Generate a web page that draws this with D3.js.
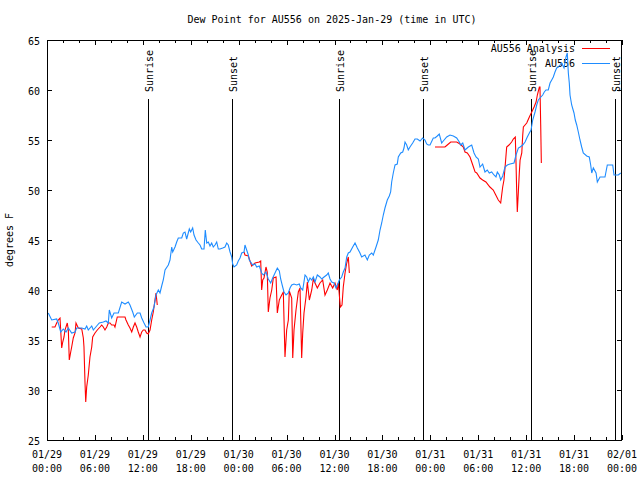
<!DOCTYPE html>
<html><head><meta charset="utf-8">
<script src="https://cdn.jsdelivr.net/npm/d3@7"></script>
<style>body{margin:0;background:#fff}svg{display:block}text{font-family:"DejaVu Sans Mono",monospace;font-size:10px;fill:#000}</style>
</head><body><svg id="c" width="640" height="480"></svg>
<script>
// hours since 2025-01-29 00:00 UTC
const blueHours=[0.16,0.59,1.21,1.41,1.72,2.04,2.38,2.67,3.09,3.51,3.72,4.35,4.76,4.97,5.17,5.60,5.80,6.22,6.55,7.05,7.39,7.68,7.80,8.10,8.39,8.93,9.35,9.77,10.18,10.39,10.73,10.93,11.31,11.65,11.86,12.15,12.40,12.68,12.90,13.11,13.40,13.65,13.94,14.15,14.36,14.56,14.78,15.19,15.40,15.62,15.74,16.03,16.24,16.44,16.87,17.07,17.28,17.49,17.82,17.99,18.24,18.41,18.66,18.95,19.16,19.37,19.66,19.82,20.00,20.20,20.41,20.62,20.82,21.04,21.25,21.45,21.66,22.00,22.29,22.50,22.70,22.92,23.13,23.25,23.42,23.75,23.95,24.17,24.38,24.67,24.79,25.00,25.21,25.33,25.76,26.05,26.26,26.58,26.88,27.09,27.42,27.71,28.01,28.26,28.55,28.84,29.09,29.26,29.51,29.68,29.93,30.22,30.43,30.64,30.93,31.27,31.59,31.77,32.02,32.31,32.52,32.72,32.93,33.15,33.35,33.56,33.85,34.18,34.40,34.69,35.02,35.22,35.44,35.65,35.94,36.19,36.35,36.60,36.90,37.10,37.32,37.53,37.73,37.94,38.28,38.57,38.86,39.19,39.40,39.81,40.11,40.36,40.66,40.86,41.20,41.48,41.70,41.91,42.11,42.32,42.61,42.86,43.03,43.16,43.36,43.58,43.86,43.99,44.29,44.54,44.70,44.83,45.04,45.24,45.45,45.79,46.08,46.37,46.71,47.04,47.33,47.54,47.74,47.96,48.37,48.58,48.87,49.12,49.42,49.62,50.05,50.46,50.88,51.30,51.63,51.80,52.06,52.34,52.76,52.97,53.18,53.47,53.72,54.01,54.22,54.55,54.84,55.13,55.38,55.68,55.97,56.22,56.39,56.64,56.81,57.06,57.35,57.64,57.98,58.48,58.73,59.02,59.24,59.57,59.86,60.14,60.40,60.61,60.82,61.11,61.32,61.52,61.73,62.07,62.27,62.48,62.77,62.99,63.20,63.40,63.61,63.82,64.03,64.24,64.45,64.74,64.99,65.15,65.28,65.40,65.49,65.70,65.99,66.15,66.33,66.53,66.74,66.95,67.15,67.58,67.90,68.08,68.21,68.41,68.75,68.91,69.25,69.87,70.16,70.84,71.00,71.54,71.84];
const blueValues=[37.7,37.0,37.1,36.7,35.8,36.1,35.8,36.2,35.7,35.8,36.2,36.2,36.1,36.4,36.0,36.4,36.0,36.4,36.7,36.8,36.9,36.7,38.0,37.2,37.7,37.7,38.8,38.6,38.8,38.5,37.8,37.3,37.7,37.7,37.2,36.7,36.3,36.3,37.0,37.7,38.3,39.5,40.0,39.7,40.4,41.0,42.0,42.5,43.0,44.3,43.8,44.3,44.8,45.2,45.2,45.7,45.8,45.1,46.1,45.8,46.2,45.5,45.0,44.7,44.5,44.1,44.1,46.0,44.7,44.8,44.4,44.7,44.3,44.5,44.8,44.1,44.1,44.2,44.3,44.7,44.5,43.8,43.3,42.6,42.3,42.5,42.9,43.2,43.7,43.8,44.5,44.0,43.5,43.0,42.5,42.6,42.3,42.4,41.7,41.5,41.8,41.1,40.7,41.2,41.7,42.2,41.9,41.1,40.3,39.8,39.5,39.7,40.2,40.5,40.6,40.5,40.6,40.2,40.0,41.5,41.3,40.8,41.2,41.0,41.3,40.8,41.5,41.3,41.1,41.3,41.5,41.7,41.1,40.8,40.7,40.2,40.5,41.0,41.3,41.8,42.2,43.3,43.7,43.8,44.3,44.7,44.2,43.7,43.3,43.5,43.0,43.5,43.7,43.5,44.3,45.0,46.0,46.7,47.5,48.2,49.0,49.4,49.8,50.8,51.7,52.5,52.6,53.3,53.7,53.8,54.2,54.8,54.5,54.0,54.3,54.7,55.1,55.1,54.9,55.2,55.0,54.6,54.5,54.5,55.2,55.2,55.4,55.6,54.7,54.9,55.3,55.5,55.4,55.2,54.8,54.5,54.7,54.0,54.3,54.4,54.5,53.7,53.3,53.1,52.3,52.6,51.8,52.0,51.7,51.8,51.5,51.3,51.8,51.5,51.0,51.4,52.3,52.5,52.6,52.7,53.5,54.2,54.3,54.5,54.8,55.3,55.7,56.0,57.0,57.8,58.5,59.0,59.2,59.5,59.8,60.0,60.0,60.7,61.0,61.3,61.8,62.2,62.3,62.5,62.7,62.2,63.3,63.7,61.7,60.7,59.5,58.5,57.7,57.0,56.5,55.8,55.0,54.3,53.7,53.4,53.3,52.5,51.7,52.2,51.7,50.8,51.3,51.3,52.5,52.5,51.5,51.5,51.7];
// analysis series: three runs (null breaks the line)
const redHours=[0.59,1.00,1.21,1.41,1.63,1.84,1.97,2.13,2.25,2.54,2.67,2.79,2.97,3.09,3.29,3.51,3.63,3.92,4.35,4.55,4.63,4.76,4.85,4.97,5.17,5.38,5.60,5.72,6.01,6.30,6.64,6.85,7.05,7.26,7.48,7.68,7.89,8.10,8.39,8.51,8.80,9.35,9.77,9.89,10.18,10.39,10.61,10.81,11.02,11.23,11.43,11.65,11.86,12.06,12.27,12.48,12.68,12.90,13.11,13.31,13.52,13.65,13.81,
 18.0,
 24.67,24.79,25.21,25.63,26.05,26.58,26.76,26.88,27.01,27.17,27.42,27.58,27.71,27.92,28.14,28.34,28.68,28.84,29.09,29.39,29.59,29.80,30.01,30.22,30.34,30.64,30.77,30.93,31.18,31.47,31.68,31.89,32.02,32.18,32.43,32.60,32.85,33.15,33.35,33.56,33.85,34.18,34.52,34.81,35.10,35.44,35.77,36.06,36.35,36.48,36.73,36.94,37.10,37.32,37.53,37.73,37.86,
 42.0,
 48.58,49.83,50.12,50.55,51.30,51.71,52.13,52.34,52.63,52.97,53.31,53.60,53.81,54.22,54.55,54.96,55.46,55.88,56.13,56.51,56.81,57.06,57.22,57.35,57.56,57.85,58.18,58.39,58.64,58.73,58.81,58.89,59.02,59.14,59.24,59.45,59.57,59.65,60.07,60.40,60.70,60.99,61.24,61.40,61.65,61.73,61.82,61.90];
const redValues=[36.3,36.3,36.7,37.0,37.2,34.2,34.8,35.3,36.0,36.7,36.0,33.0,33.8,34.3,35.2,35.7,36.7,36.2,36.1,35.2,34.3,30.7,28.8,30.3,31.5,33.3,34.3,35.3,35.7,36.0,36.3,36.5,36.3,36.0,36.3,36.7,36.7,36.5,36.5,36.3,37.3,37.3,37.3,37.0,36.5,36.2,35.8,36.3,36.7,36.3,35.8,35.3,35.8,36.0,36.0,35.7,35.6,36.0,37.0,37.8,39.0,39.7,38.5,
 null,
 43.8,43.5,43.4,42.4,42.7,42.8,42.9,40.0,41.0,41.2,42.3,41.8,37.8,39.2,40.0,41.2,41.3,37.7,39.0,39.5,39.8,33.3,36.0,37.0,39.9,39.2,33.2,36.0,38.0,39.8,40.2,33.2,35.7,37.7,39.3,40.8,39.0,40.0,41.1,40.7,40.2,40.7,41.0,39.5,40.0,40.7,40.2,40.7,40.0,40.7,38.3,38.5,40.3,41.7,42.7,43.3,41.7,
 null,
 54.3,54.3,54.5,54.8,54.8,54.6,54.3,53.8,53.7,53.3,52.5,51.8,51.7,51.2,51.0,50.8,50.3,50.0,49.6,49.0,48.7,50.3,51.0,52.2,54.3,54.5,54.8,55.1,55.3,52.7,50.0,47.8,49.8,51.7,53.0,53.7,55.5,56.3,56.7,57.3,57.8,58.3,58.8,59.5,60.3,60.3,56.5,52.7];
const sunEvents=[["Sunrise",12.63],["Sunset",23.12],["Sunrise",36.60],["Sunset",47.02],["Sunrise",60.55],["Sunset",71.12]];
const yTicks=[25,30,35,40,45,50,55,60,65];
const seriesNames=["AU556 Analysis","AU556"];
const seriesColors=["#ff0000","#1e8cff"];
const titleText="Dew Point for AU556 on 2025-Jan-29 (time in UTC)";
const yLabel="degrees F";

const base=Date.UTC(2025,0,29);
const T=h=>new Date(base+h*3600000);
const M={l:47,r:622,t:40,b:440};
const svg=d3.select("#c");
const x=d3.scaleUtc().domain([T(0),T(72)]).range([M.l,M.r]);
const y=d3.scaleLinear().domain([25,65]).range([M.b,M.t]);

// title & y label
svg.append("text").attr("x",332).attr("y",23).attr("text-anchor","middle").text(titleText);
svg.append("text").attr("transform","translate(13,240) rotate(-90)").attr("text-anchor","middle").text(yLabel);

// ticks
const g=svg.append("g").attr("shape-rendering","crispEdges").attr("stroke","#000");
d3.range(0,73,2).forEach(h=>{const t=T(h),px=Math.round(x(t))+0.5,len=(h%6===0)?5:3;
 g.append("line").attr("x1",px).attr("x2",px).attr("y1",M.b).attr("y2",M.b-len);
 g.append("line").attr("x1",px).attr("x2",px).attr("y1",M.t).attr("y2",M.t+len);});
yTicks.forEach(v=>{const py=Math.round(y(v))+0.5;
 g.append("line").attr("x1",M.l).attr("x2",M.l+5).attr("y1",py).attr("y2",py);
 g.append("line").attr("x1",M.r).attr("x2",M.r-5).attr("y1",py).attr("y2",py);
 svg.append("text").attr("x",M.l-7).attr("y",py+4).attr("text-anchor","end").text(v);});
const fD=d3.utcFormat("%m/%d"),fH=d3.utcFormat("%H:%M");
d3.range(0,73,6).map(T).forEach(t=>{const px=x(t);
 svg.append("text").attr("x",px).attr("y",458).attr("text-anchor","middle").text(fD(t));
 svg.append("text").attr("x",px).attr("y",472).attr("text-anchor","middle").text(fH(t));});

// sunrise / sunset
sunEvents.forEach(([lab,h])=>{const px=Math.round(x(T(h)))+0.5;
 g.append("line").attr("x1",px).attr("x2",px).attr("y1",99).attr("y2",M.b);
 svg.append("text").attr("transform",`translate(${px+4},92) rotate(-90)`).attr("text-anchor","start").text(lab);});

// legend
[0,1].forEach(i=>{const ly=48+i*15;
 svg.append("text").attr("x",575).attr("y",ly+4).attr("text-anchor","end").text(seriesNames[i]);
 svg.append("line").attr("x1",582).attr("x2",610).attr("y1",ly+0.5).attr("y2",ly+0.5).attr("stroke",seriesColors[i]).attr("stroke-width",1);});

// lines
const line=d3.line().defined(d=>d[1]!=null).x(d=>x(T(d[0]))).y(d=>y(d[1]));
svg.append("path").datum(redHours.map((h,i)=>[h,redValues[i]])).attr("d",line).attr("fill","none").attr("stroke",seriesColors[0]).attr("stroke-width",1.1);
svg.append("path").datum(blueHours.map((h,i)=>[h,blueValues[i]])).attr("d",line).attr("fill","none").attr("stroke",seriesColors[1]).attr("stroke-width",1.1);

// frame
svg.append("rect").attr("x",M.l+0.5).attr("y",M.t+0.5).attr("width",M.r-M.l-1).attr("height",M.b-M.t).attr("fill","none").attr("stroke","#000").attr("shape-rendering","crispEdges");
</script></body></html>
